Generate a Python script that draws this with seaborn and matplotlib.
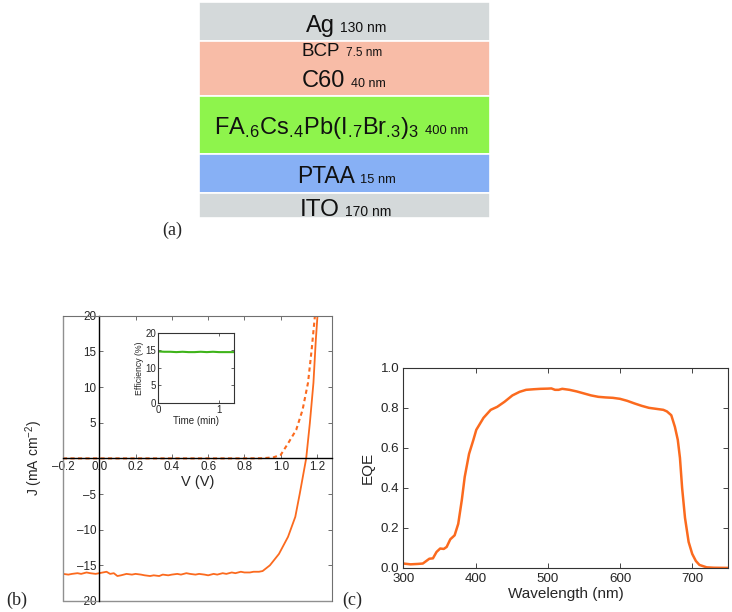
import matplotlib
matplotlib.use('Agg')
import numpy as np
import pandas as pd
import seaborn as sns
from matplotlib import pyplot as plt

# (a) device stack, top to bottom
layer_names = ['Ag', 'BCP', 'C60',
               r'FA$_{.\!6}$Cs$_{.\!4}$Pb(I$_{.\!7}$Br$_{.\!3}$)$_3$',
               'PTAA', 'ITO']
layer_thick = ['130 nm', '7.5 nm', '40 nm', '400 nm', '15 nm', '170 nm']

# (b) J-V curves
v_light = [-0.20, -0.17, -0.15, -0.12, -0.10, -0.07, -0.05, -0.02, 0.00, 0.02, 0.04, 0.06,
           0.08, 0.10, 0.12, 0.15, 0.18, 0.20, 0.23, 0.25, 0.28, 0.30, 0.33, 0.35, 0.38,
           0.40, 0.43, 0.45, 0.48, 0.50, 0.53, 0.55, 0.58, 0.60, 0.63, 0.65, 0.68, 0.70,
           0.73, 0.75, 0.78, 0.80, 0.83, 0.85, 0.88, 0.90,
           0.92, 0.94, 0.99, 1.04, 1.08, 1.105, 1.14, 1.16, 1.18, 1.193, 1.205]
j_light = [-16.2, -16.3, -16.2, -16.1, -16.2, -16.0, -16.1, -16.2, -16.1, -16.0, -15.9, -16.2,
           -16.1, -16.5, -16.4, -16.2, -16.3, -16.2, -16.3, -16.4, -16.5, -16.4, -16.5, -16.3,
           -16.4, -16.3, -16.2, -16.3, -16.1, -16.2, -16.3, -16.2, -16.3, -16.4, -16.2, -16.3,
           -16.1, -16.2, -16.0, -16.1, -15.9, -16.0, -16.0, -15.9, -15.9, -15.8,
           -15.4, -15.0, -13.4, -11.0, -8.2, -4.9, 0.0, 4.9, 10.6, 16.6, 21.0]
v_dark = [-0.20, 0.00, 0.20, 0.40, 0.60, 0.80, 0.90, 0.96, 1.00, 1.04, 1.085, 1.12, 1.15, 1.17, 1.19]
j_dark = [0.0, 0.0, 0.0, 0.0, 0.0, 0.0, 0.02, 0.15, 0.5, 2.1, 4.0, 6.8, 10.6, 15.2, 20.5]
v_ticks = [-0.2, 0.0, 0.2, 0.4, 0.6, 0.8, 1.0, 1.2]
j_ticks = [-20, -15, -10, -5, 0, 5, 10, 15, 20]

# (b) inset: stabilised efficiency
t_min = [0.0, 0.1, 0.2, 0.3, 0.4, 0.5, 0.6, 0.7, 0.8, 0.9, 1.0, 1.1, 1.2, 1.25]
eff = [14.7, 14.6, 14.6, 14.5, 14.6, 14.5, 14.5, 14.6, 14.5, 14.6, 14.5, 14.5, 14.5, 14.5]

# (c) EQE spectrum
wl = [300, 310, 320, 327, 336, 341, 346, 351, 356, 360, 365, 371, 376, 381, 385, 391, 397,
      401, 411, 421, 430, 440, 451, 461, 470, 481, 490, 500, 505, 510, 515, 520, 530, 540,
      550, 560, 570, 580, 590, 600, 610, 620, 630, 640, 650, 660, 665, 671, 676, 680, 683,
      686, 690, 695, 700, 705, 710, 720, 730, 750]
eqe = [0.022, 0.018, 0.020, 0.022, 0.046, 0.048, 0.080, 0.097, 0.095, 0.105, 0.143, 0.163,
       0.22, 0.34, 0.455, 0.57, 0.64, 0.69, 0.75, 0.79, 0.805, 0.83, 0.862, 0.88, 0.89,
       0.893, 0.895, 0.896, 0.897, 0.89, 0.89, 0.895, 0.89, 0.882, 0.872, 0.862, 0.855,
       0.852, 0.85, 0.845, 0.835, 0.822, 0.81, 0.80, 0.795, 0.79, 0.782, 0.763, 0.705,
       0.64, 0.55, 0.40, 0.25, 0.13, 0.07, 0.035, 0.015, 0.003, 0.001, 0.0]

# styles
band_heights = [39, 55, 58, 39, 25]
band_colors = ['#d4d9da', '#f8bca7', '#8ef44c', '#87b0f5', '#d4d9da']
name_sizes = [17, 13.5, 17, 17, 16.5, 17.5]
unit_sizes = [10, 8.5, 9, 9.3, 9.3, 10]
text_split = [0.467, 0.486, 0.503, 0.758, 0.536, 0.483]
text_base = [0.862, 0.747, 0.608, 0.389, 0.162, 0.008]
orange = '#fb6a1e'
green = '#3fb41a'

sns.set_style('ticks')
plt.rcParams['font.family'] = ['Liberation Sans', 'DejaVu Sans']
plt.rcParams['mathtext.default'] = 'regular'


def dash_label(v, fmt):
    # the original uses an en dash for negative numbers
    return fmt.format(v).replace('-', '\u2013')


fig = plt.figure(figsize=(7.32, 6.12), dpi=100)

# ---- (a) layer stack
ax_a = fig.add_axes([0.272, 0.644, 0.397, 0.353])
bottom = sum(band_heights)
for h, c in zip(band_heights, band_colors):
    bottom -= h
    ax_a.bar(0.5, h, bottom=bottom, width=1.0, color=c, edgecolor='white', linewidth=1.2)
ax_a.set_xlim(0, 1)
ax_a.set_ylim(0, sum(band_heights))
ax_a.axis('off')
for i, (name, thick) in enumerate(zip(layer_names, layer_thick)):
    ax_a.text(text_split[i], text_base[i], name, transform=ax_a.transAxes, ha='right',
              va='baseline', fontsize=name_sizes[i], color='#111111')
    ax_a.text(text_split[i] + 0.018, text_base[i], thick, transform=ax_a.transAxes, ha='left',
              va='baseline', fontsize=unit_sizes[i], color='#111111')

# ---- (b) J-V
ax_b = fig.add_axes([0.086, 0.018, 0.367, 0.466])
sns.lineplot(x=v_dark, y=j_dark, ax=ax_b, color=orange, linewidth=1.5,
             linestyle=(0, (2, 1.6)), sort=False)
sns.lineplot(x=v_light, y=j_light, ax=ax_b, color=orange, linewidth=1.3, sort=False)
ax_b.set_xlim(-0.2, 1.28)
ax_b.set_ylim(-20, 20)
ax_b.spines['left'].set_position(('data', 0))
ax_b.spines['bottom'].set_position(('data', 0))
for s in ['top', 'right']:
    ax_b.spines[s].set_visible(True)
    ax_b.spines[s].set_color('#707070')
for s in ['left', 'bottom']:
    ax_b.spines[s].set_color('black')
    ax_b.spines[s].set_linewidth(1.0)
ax_b.plot([0, 0], [0, 1], transform=ax_b.transAxes, color='#909090', lw=1, clip_on=False)
ax_b.plot([0, 1], [0, 0], transform=ax_b.transAxes, color='#909090', lw=1, clip_on=False)
ax_b.set_xticks(v_ticks)
ax_b.set_xticklabels([dash_label(v, '{:.1f}') for v in v_ticks])
ax_b.set_yticks(j_ticks)
ax_b.set_yticklabels(['' if j == 0 else dash_label(j, '{}') for j in j_ticks])
ax_b.tick_params(direction='in', top=True, right=True, length=3, width=0.6,
                 labelsize=8.4, pad=2, color='#555555')
ax_b.set_xlabel('V (V)', fontsize=10.5, labelpad=1)
ax_b.set_ylabel(r'J (mA cm$^{-2}$)', fontsize=10)
ax_b.yaxis.set_label_coords(-0.065, 0.5)

# inset
ax_i = fig.add_axes([0.216, 0.342, 0.104, 0.114])
sns.lineplot(x=t_min, y=eff, ax=ax_i, color=green, linewidth=1.5)
ax_i.set_xlim(0, 1.25)
ax_i.set_ylim(0, 20)
ax_i.set_xticks([0, 1])
ax_i.set_yticks([0, 5, 10, 15, 20])
ax_i.tick_params(direction='in', top=True, right=True, length=2, width=0.5,
                 labelsize=7, pad=1.5)
for s in ax_i.spines.values():
    s.set_visible(True)
    s.set_color('#333333')
ax_i.set_xlabel('Time (min)', fontsize=7, labelpad=1)
ax_i.set_ylabel('Efficiency (%)', fontsize=6.3, labelpad=1)

# ---- (c) EQE
ax_c = fig.add_axes([0.551, 0.072, 0.444, 0.327])
sns.lineplot(x=wl, y=eqe, ax=ax_c, color=orange, linewidth=1.8)
ax_c.set_xlim(300, 750)
ax_c.set_ylim(0, 1.0)
ax_c.set_xticks([300, 400, 500, 600, 700])
ax_c.set_yticks([0.0, 0.2, 0.4, 0.6, 0.8, 1.0])
ax_c.yaxis.set_major_formatter(matplotlib.ticker.FormatStrFormatter('%.1f'))
for s in ax_c.spines.values():
    s.set_visible(True)
    s.set_color('#333333')
ax_c.tick_params(direction='in', top=True, right=True, length=3.5, width=0.6,
                 labelsize=9.6, pad=3)
ax_c.tick_params(axis='x', pad=4)
ax_c.set_xlabel('Wavelength (nm)', fontsize=11, labelpad=1)
ax_c.set_ylabel('EQE', fontsize=11)

# panel letters
serif = ['Liberation Serif', 'DejaVu Serif']
fig.text(0.235, 0.624, '(a)', family=serif, fontsize=13, ha='center', va='center')
fig.text(0.023, 0.019, '(b)', family=serif, fontsize=13, ha='center', va='center')
fig.text(0.481, 0.019, '(c)', family=serif, fontsize=13, ha='center', va='center')

fig.savefig('out.png', dpi=100)
